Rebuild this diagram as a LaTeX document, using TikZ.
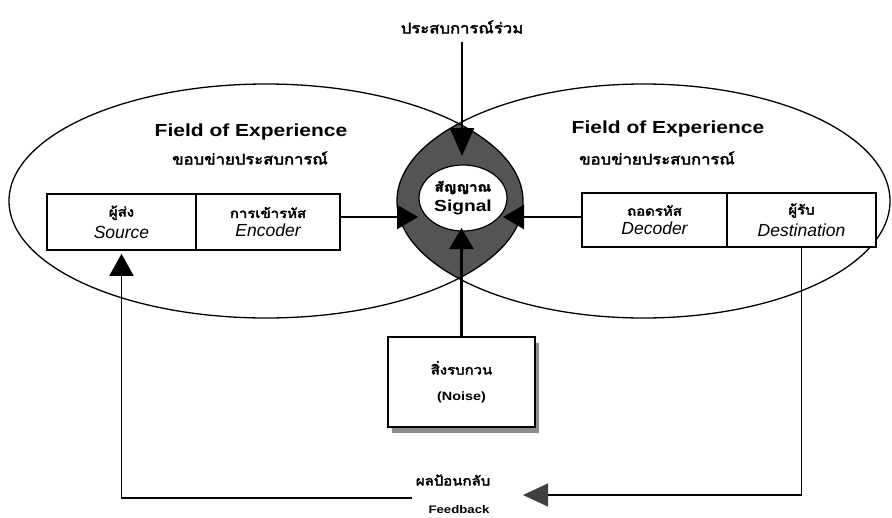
\documentclass[tikz,border=0pt]{standalone}
\usepackage{fontspec}
\setmainfont{Liberation Sans}
\newfontfamily\widesans[FakeStretch=1.2]{Liberation Sans}
\newfontfamily\widethai[Script=Thai,FakeStretch=1.15,FakeBold=3]{Loma}
\usetikzlibrary{shapes.geometric,arrows.meta,shadows}

\newcommand\thl[1]{{\widethai\fontsize{13}{15}\selectfont #1}}
\newcommand\enl[1]{{\itshape\fontsize{17.5}{19}\selectfont #1}}

\definecolor{lensgray}{gray}{0.33}
\definecolor{shadowgray}{gray}{0.55}

\begin{document}
\begin{tikzpicture}[x=1pt,y=-1pt,
  field/.style={draw, line width=1.3pt},
  cell/.style={draw, line width=1.5pt, fill=white, minimum height=56pt,
               inner sep=0pt, align=center},
  conn/.style={line width=2.4pt},
  fbline/.style={line width=1.4pt},
  lenstip/.style={-{Triangle[length=21pt,width=24pt]}},
  bigtip/.style={-{Triangle[length=22pt,width=24pt]}},
  title/.style={font=\widesans\bfseries\fontsize{17.5}{19}\selectfont, inner sep=0pt},
  thaititle/.style={font=\widethai\fontsize{14.5}{17}\selectfont, inner sep=0pt},
]
\useasboundingbox (0,0) rectangle (892,517);

% overlap of the two fields of experience
\begin{scope}
  \clip (266,201) ellipse [x radius=257, y radius=117];
  \fill[lensgray] (643.5,201) ellipse [x radius=246.5, y radius=117];
\end{scope}
\draw[field] (266,201) ellipse [x radius=257, y radius=117];
\draw[field] (643.5,201) ellipse [x radius=246.5, y radius=117];

% headings
\node[thaititle] (shared) at (462,27) {ประสบการณ์ร่วม};
\node[title] (lfield) at (251,132) {Field of Experience};
\node[thaititle] (lfieldth) at (250,158) {ขอบข่ายประสบการณ์};
\node[title] (rfield) at (668,129) {Field of Experience};
\node[thaititle] (rfieldth) at (657,158) {ขอบข่ายประสบการณ์};

% sender and receiver
\node[cell, minimum width=149pt] (src) at (121.5,222) {\thl{ผู้ส่ง}\\[5pt]\enl{Source}};
\node[cell, minimum width=144pt] (enc) at (268,222) {\thl{การเข้ารหัส}\\[5pt]\enl{Encoder}};
\node[cell, minimum width=145pt, minimum height=54pt] (dec) at (654.5,220) {\thl{ถอดรหัส}\\[5pt]\enl{Decoder}};
\node[cell, minimum width=149pt, minimum height=54pt] (dst) at (801.5,220) {\thl{ผู้รับ}\\[5pt]\enl{Destination}};

% signal
\node[ellipse, draw, line width=1.2pt, fill=white, minimum width=88pt,
      minimum height=66pt, inner sep=0pt, align=center,
      font=\widesans\bfseries\fontsize{16}{19}\selectfont]
      (sig) at (463,198) {{\widethai\fontsize{13}{15}\selectfont สัญญาณ}\\[1pt]Signal};

% noise
\node[draw, line width=1.4pt, fill=white, minimum width=147pt, minimum height=90pt,
      inner sep=0pt, align=center,
      drop shadow={shadow xshift=4pt, shadow yshift=-6pt, fill=shadowgray, opacity=1}]
      (noise) at (461.5,382)
      {{\widethai\fontsize{13}{15}\selectfont สิ่งรบกวน}\\[14pt]
       {\widesans\bfseries\fontsize{12}{14}\selectfont (Noise)}};

% arrow tips inside the overlap
\coordinate (tTop) at (462,156);
\coordinate (tLeft) at (418,217);
\coordinate (tRight) at (503,217);
\coordinate (tBottom) at (461.5,228);

\draw[conn, -{Triangle[length=28pt,width=24pt]}] ([yshift=-8pt]shared.south) -- (tTop);
\draw[conn, lenstip] (enc.east |- tLeft) -- (tLeft);
\draw[conn, lenstip] (dec.west |- tRight) -- (tRight);
\draw[conn, lenstip] (noise.north) -- (tBottom);

% feedback loop
\coordinate (fbR) at (523,495);
\coordinate (fbL) at (412,498);
\node[font=\widethai\fontsize{13}{15}\selectfont, inner sep=0pt] (fbth) at (453,480) {ผลป้อนกลับ};
\node[font=\widesans\bfseries\fontsize{11}{13}\selectfont, inner sep=0pt] (fben) at (459,510) {Feedback};
\draw[fbline, -{Triangle[length=25pt,width=23pt,color=black!75]}] (dst.south) |- (fbR);
\draw[fbline, bigtip, shorten >=3pt] (fbL) -| (src.south);
\end{tikzpicture}
\end{document}
